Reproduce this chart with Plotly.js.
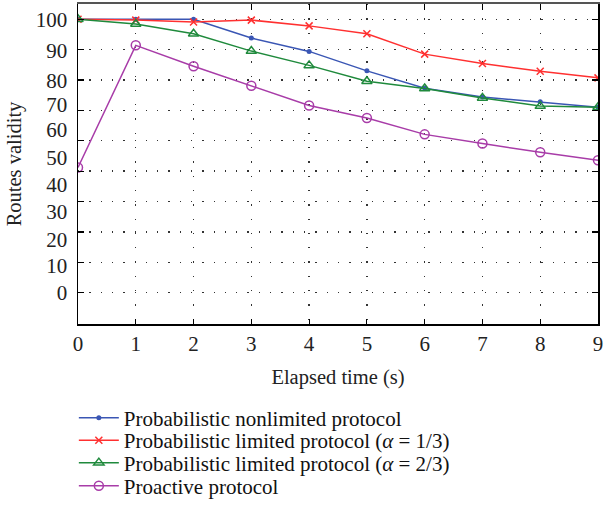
<!DOCTYPE html>
<html>
<head>
<meta charset="utf-8">
<script src="https://cdn.plot.ly/plotly-3.0.1.min.js"></script>
<style>html,body{margin:0;padding:0;background:#fff;}#chart{width:604px;height:514px;}</style>
</head>
<body>
<div id="chart"></div>
<script>
const elapsedTime = [0, 1, 2, 3, 4, 5, 6, 7, 8, 9];
const nonlimited = [100, 100, 100, 93.8, 89.4, 83, 77.3, 74.4, 72.8, 71];
const limitedOneThird = [100, 99.7, 99.1, 99.7, 97.8, 95.2, 88.5, 85.4, 82.9, 80.7];
const limitedTwoThirds = [100, 98.4, 95.2, 89.5, 84.8, 79.6, 77.2, 74.1, 71.4, 71];
const proactive = [51.2, 91.4, 84.5, 78.1, 71.6, 67.5, 62.1, 59.1, 56.2, 53.6];

const seriesNames = [
  "Probabilistic nonlimited protocol",
  "Probabilistic limited protocol (<i>α</i> = 1/3)",
  "Probabilistic limited protocol (<i>α</i> = 2/3)",
  "Proactive protocol"
];
// y tick labels as printed in the figure (positions of the printed labels)
const yLabelPositions = [100, 89.8, 79.9, 72.0, 63.5, 54.6, 45.7, 36.8, 27.6, 18.8, 9.9];
const yLabelText = ["100", "90", "80", "70", "60", "50", "40", "30", "20", "10", "0"];
const yGridValues = [10, 20, 30, 40, 50, 60, 70, 80, 90, 100];
const xTickValues = [0, 1, 2, 3, 4, 5, 6, 7, 8, 9];
const xTickText = ["0", "1", "2", "3", "4", "5", "6", "7", "8", "9"];

const serif = "Liberation Serif, Times New Roman, serif";
const yRange = [-0.3, 105];

const traces = [
  {x: elapsedTime, y: nonlimited, name: seriesNames[0], mode: "lines+markers", legend: "legend",
   line: {color: "#3a56b4", width: 1.5}, marker: {symbol: "circle", size: 5, color: "#3a56b4"}},
  {x: elapsedTime, y: limitedOneThird, name: seriesNames[1], mode: "lines+markers", legend: "legend2",
   line: {color: "#ff3030", width: 1.5}, marker: {symbol: "x-thin-open", size: 7, color: "#ff3030", line: {width: 1.5, color: "#ff3030"}}},
  {x: elapsedTime, y: limitedTwoThirds, name: seriesNames[2], mode: "lines+markers", legend: "legend3",
   line: {color: "#1f8a3c", width: 1.5}, marker: {symbol: "triangle-up-open", size: 9, color: "#1f8a3c", line: {width: 1.5}}},
  {x: elapsedTime, y: proactive, name: seriesNames[3], mode: "lines+markers", legend: "legend4",
   line: {color: "#a83ca8", width: 1.5}, marker: {symbol: "circle-open", size: 9, color: "#a83ca8", line: {width: 1.5}}}
];
// invisible helper trace to activate the secondary axes
traces.push({x: [elapsedTime[0]], y: [null], xaxis: "x2", yaxis: "y2", showlegend: false, hoverinfo: "skip", mode: "lines"});

function legendAt(yc) {
  return {
    x: -0.008, xanchor: "left", y: yc, yanchor: "middle",
    font: {size: 21, family: serif, color: "#111"},
    bgcolor: "rgba(0,0,0,0)", borderwidth: 0, itemwidth: 40
  };
}

const layout = {
  width: 604, height: 514,
  margin: {l: 78, r: 6, t: 4, b: 190},
  paper_bgcolor: "#fff", plot_bgcolor: "#fff",
  font: {family: serif, size: 20, color: "#222"},
  showlegend: true,
  xaxis: {
    range: [0, 9], tickvals: xTickValues, ticktext: xTickText,
    showline: true, linecolor: "#000", linewidth: 1.5,
    ticks: "inside", ticklen: 5, tickcolor: "#000", tickwidth: 1.2,
    showgrid: true, gridcolor: "#333", gridwidth: 1.3, griddash: "1.3px,13px",
    zeroline: false, tickfont: {size: 21, family: serif},
    ticklabeloverflow: "allow", ticklabelstandoff: 0,
    title: {text: "Elapsed time (s)", font: {size: 20.5, family: serif}, standoff: 15}
  },
  xaxis2: {
    overlaying: "x", side: "top", range: [0, 9], tickvals: xTickValues,
    showticklabels: false, showline: true, linecolor: "#555", linewidth: 2.5,
    ticks: "inside", ticklen: 6, tickcolor: "#000", tickwidth: 1.2,
    showgrid: false, zeroline: false
  },
  yaxis: {
    range: yRange, tickvals: yLabelPositions, ticktext: yLabelText,
    showline: true, linecolor: "#000", linewidth: 1.5,
    ticks: "", showgrid: false, zeroline: false,
    tickfont: {size: 21, family: serif}, ticklabelstandoff: 5,
    title: {text: "Routes validity", font: {size: 20.5, family: serif}, standoff: 8}
  },
  yaxis2: {
    overlaying: "y", side: "right", range: yRange, tickvals: yGridValues,
    showticklabels: false, showline: true, linecolor: "#000", linewidth: 1.5,
    ticks: "inside", ticklen: 6, tickcolor: "#000", tickwidth: 1.2,
    mirror: "ticks",
    showgrid: true, gridcolor: "#333", gridwidth: 1.3, griddash: "1.3px,10px",
    zeroline: false
  },
  legend: legendAt(-0.2938),
  legend2: legendAt(-0.3641),
  legend3: legendAt(-0.4344),
  legend4: legendAt(-0.5063)
};

Plotly.newPlot("chart", traces, layout, {displayModeBar: false, staticPlot: true});
</script>
</body>
</html>
